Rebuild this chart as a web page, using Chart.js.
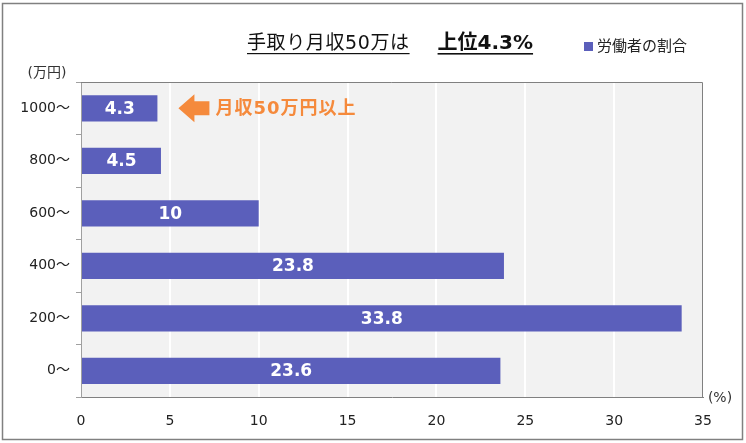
<!DOCTYPE html>
<html>
<head>
<meta charset="utf-8">
<script src="https://cdn.jsdelivr.net/npm/chart.js@4"></script>
<style>
  html, body { margin: 0; padding: 0; background: #fff; }
  #wrap { width: 746px; height: 443px; }
</style>
</head>
<body>
<div id="wrap"><canvas id="myChart" width="746" height="443"></canvas></div>
<script>
// データ（上から順）
const categories = ["1000～", "800～", "600～", "400～", "200～", "0～"];
const shares = [4.3, 4.5, 10, 23.8, 33.8, 23.6];
const xTicks = [0, 5, 10, 15, 20, 25, 30, 35];
const seriesName = "労働者の割合";
const titleLeft = "手取り月収50万は";
const titleRight = "上位4.3%";
const noteText = "月収50万円以上";

const FONT = "'DejaVu Sans', 'Noto Sans CJK JP', sans-serif";
const barColor = "#5b5fbb";
const orange = "#f58a3c";

const decor = {
  id: "decor",
  beforeDraw(chart) {
    const { ctx, chartArea: a } = chart;
    ctx.save();
    // 外枠
    ctx.strokeStyle = "#808080";
    ctx.lineWidth = 1.5;
    ctx.strokeRect(2.5, 3.5, 740, 436);
    // プロットエリアの背景
    ctx.fillStyle = "#f2f2f2";
    ctx.fillRect(a.left, a.top, a.right - a.left, a.bottom - a.top);
    ctx.restore();
  },
  afterDatasetsDraw(chart) {
    const { ctx, chartArea: a } = chart;
    const x = chart.scales.x;
    const meta = chart.getDatasetMeta(0);
    ctx.save();
    // プロットエリアの枠
    ctx.strokeStyle = "#808080";
    ctx.lineWidth = 1;
    ctx.beginPath();
    ctx.moveTo(a.left, a.top + 0.5);
    ctx.lineTo(a.right - 0.5, a.top + 0.5);
    ctx.lineTo(a.right - 0.5, a.bottom);
    ctx.stroke();

    // 棒の中の値
    ctx.fillStyle = "#fff";
    ctx.font = "bold 17px " + FONT;
    ctx.textAlign = "center";
    ctx.textBaseline = "middle";
    meta.data.forEach((bar, i) => {
      ctx.fillText(String(shares[i]), (bar.base + bar.x) / 2, bar.y + 1);
    });

    // 矢印と注記
    const top = meta.data[0];
    const tip = x.getPixelForValue(shares[0]) + 21;
    const cy = top.y;
    ctx.fillStyle = orange;
    ctx.beginPath();
    ctx.moveTo(tip, cy);
    ctx.lineTo(tip + 16, cy - 14);
    ctx.lineTo(tip + 16, cy - 7);
    ctx.lineTo(tip + 31, cy - 7);
    ctx.lineTo(tip + 31, cy + 7);
    ctx.lineTo(tip + 16, cy + 7);
    ctx.lineTo(tip + 16, cy + 14);
    ctx.closePath();
    ctx.fill();
    ctx.font = "bold 18px " + FONT;
    ctx.textAlign = "left";
    ctx.letterSpacing = "1px";
    ctx.fillText(noteText, tip + 37, cy + 1);
    ctx.letterSpacing = "0px";

    // 単位
    ctx.fillStyle = "#333";
    ctx.font = "14px " + FONT;
    ctx.textAlign = "center";
    ctx.fillText("(万円)", 47, 73);
    ctx.fillText("(%)", 720, 398);

    // タイトル
    ctx.fillStyle = "#111";
    ctx.textAlign = "left";
    ctx.textBaseline = "alphabetic";
    const tx = 247, ty = 49;
    ctx.font = "19px " + FONT;
    ctx.letterSpacing = "0.6px";
    const w1 = ctx.measureText(titleLeft).width;
    ctx.fillText(titleLeft, tx, ty);
    ctx.letterSpacing = "0px";
    const rx = tx + w1 + 28;
    ctx.font = "bold 20px " + FONT;
    const w2 = ctx.measureText(titleRight).width;
    ctx.fillText(titleRight, rx, ty);
    ctx.fillRect(tx, ty + 4, w1, 1.2);
    ctx.fillRect(rx, ty + 4, w2, 1.6);

    // 凡例
    ctx.fillStyle = barColor;
    ctx.fillRect(584, 42, 9, 9);
    ctx.fillStyle = "#222";
    ctx.font = "15px " + FONT;
    ctx.textBaseline = "middle";
    ctx.fillText(seriesName, 597, 47);
    ctx.restore();
  }
};

const chart = new Chart(document.getElementById("myChart"), {
  type: "bar",
  data: {
    labels: categories,
    datasets: [{
      label: seriesName,
      data: shares,
      backgroundColor: barColor,
      barPercentage: 0.5,
      categoryPercentage: 1
    }]
  },
  options: {
    indexAxis: "y",
    responsive: false,
    animation: false,
    layout: { padding: { left: 0, top: 82, right: 43, bottom: 0 } },
    plugins: {
      legend: { display: false },
      title: { display: false },
      tooltip: { enabled: false }
    },
    scales: {
      x: {
        min: 0,
        max: 35,
        afterBuildTicks: s => { s.ticks = xTicks.map(v => ({ value: v })); },
        afterFit: s => { s.height = 46; },
        grid: { color: "#ffffff", lineWidth: 2, drawTicks: false },
        border: { display: true, color: "#808080", width: 1 },
        ticks: { color: "#222", font: { family: FONT, size: 14 }, padding: 16 }
      },
      y: {
        afterFit: s => { s.width = 81; },
        grid: { drawOnChartArea: false, color: "#a0a0a0", tickLength: 5 },
        border: { display: true, color: "#a0a0a0", width: 1 },
        ticks: { color: "#222", font: { family: FONT, size: 14 }, padding: 6 }
      }
    }
  },
  plugins: [decor]
});
</script>
</body>
</html>
